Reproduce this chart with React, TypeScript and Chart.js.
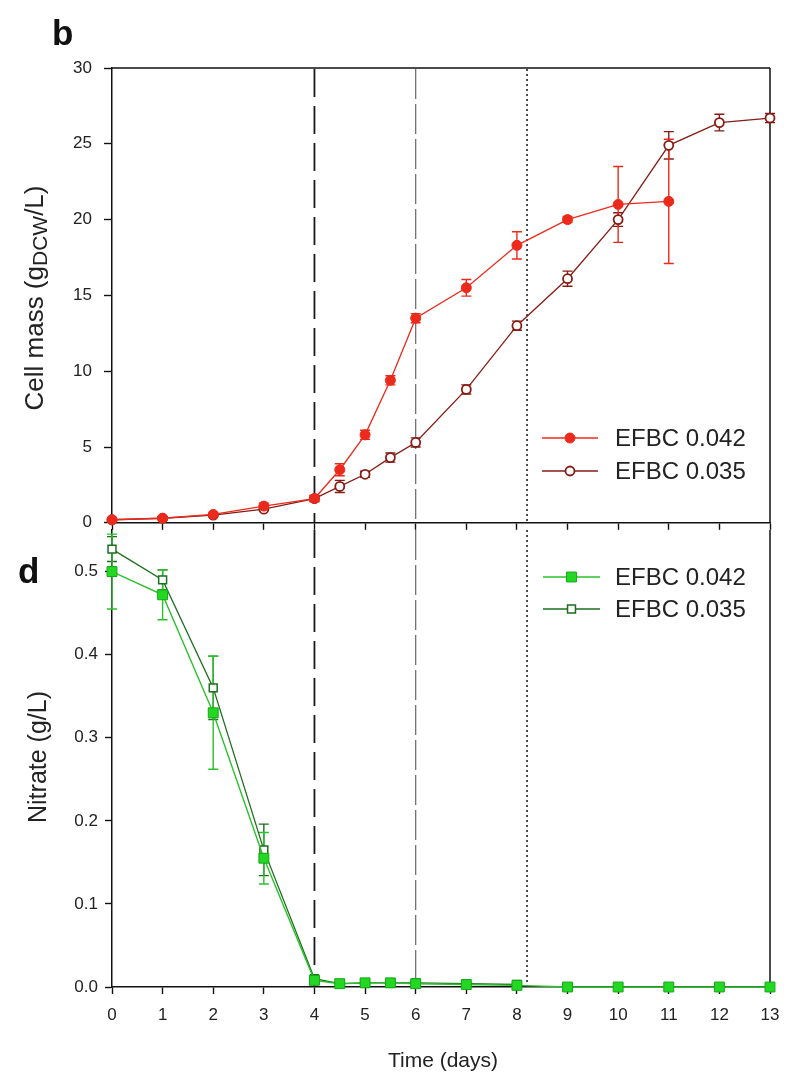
import React, { useEffect, useRef } from 'react';
import { Chart, registerables } from 'chart.js';
Chart.register(...registerables);

// ---------- data ----------
const cellDays042 = [0, 1, 2, 3, 4, 4.5, 5, 5.5, 6, 7, 8, 9, 10, 11];
const cellMass042 = [0.2, 0.3, 0.55, 1.1, 1.6, 3.5, 5.8, 9.4, 13.5, 15.5, 18.3, 20.0, 21.0, 21.2];
const cellErr042 = [0.1, 0.1, 0.1, 0.2, 0.2, 0.4, 0.3, 0.3, 0.3, 0.55, 0.9, 0.2, 2.5, 4.1];

const cellDays035 = [0, 1, 2, 3, 4, 4.5, 5, 5.5, 6, 7, 8, 9, 10, 11, 12, 13];
const cellMass035 = [0.2, 0.3, 0.5, 0.9, 1.6, 2.4, 3.2, 4.3, 5.3, 8.8, 13.0, 16.1, 20.0, 24.9, 26.4, 26.7];
const cellErr035 = [0.1, 0.1, 0.1, 0.1, 0.2, 0.4, 0.2, 0.3, 0.3, 0.3, 0.3, 0.5, 0.45, 0.9, 0.55, 0.3];

const nitDays042 = [0, 1, 2, 3, 4, 4.5, 5, 5.5, 6, 7, 8, 9, 10, 11, 12, 13];
const nitrate042 = [0.5, 0.472, 0.33, 0.155, 0.008, 0.004, 0.005, 0.005, 0.004, 0.003, 0.002, 0, 0, 0, 0, 0];
const nitErr042 = [0.045, 0.03, 0.068, 0.031, 0.003, 0.002, 0.002, 0.002, 0.002, 0.002, 0.002, 0, 0, 0, 0, 0];

const nitDays035 = [0, 1, 2, 3, 4, 4.5, 5, 5.5, 6, 7, 8];
const nitrate035 = [0.527, 0.49, 0.36, 0.165, 0.01, 0.004, 0.005, 0.005, 0.005, 0.004, 0.003];
const nitErr035 = [0.015, 0.012, 0.038, 0.031, 0.003, 0.002, 0.002, 0.002, 0.002, 0.002, 0.002];

const seriesLabels = ['EFBC 0.042', 'EFBC 0.035'];
const phaseLines = [4, 6, 8.2];
const xMin = 0;
const xMax = 13;
const cellMax = 30;
const nitrateMax = 0.55;

// ---------- styles ----------
const FONT = '"Liberation Sans", Arial, sans-serif';
const RED = '#ec2a1c';
const MAROON = '#861c14';
const GREEN = '#22d822';
const GREEN_LINE = '#2bc02b';
const DKGREEN = '#1d6e1d';
const TEXT = '#222';
const lineStyles = [
  { color: '#1a1a1a', width: 1.8, dash: [28, 9] },
  { color: '#666', width: 1.2, dash: [30, 5] },
  { color: '#222', width: 1.6, dash: [2, 3] },
];

const pts = (xs: number[], ys: number[]) => xs.map((x, i) => ({ x, y: ys[i] }));

function drawMarker(ctx: CanvasRenderingContext2D, shape: string, x: number, y: number, r: number, fill: string, stroke: string, lw: number) {
  ctx.save();
  ctx.setLineDash([]);
  ctx.beginPath();
  if (shape === 'circle') ctx.arc(x, y, r, 0, Math.PI * 2);
  else {
    const s = r * Math.SQRT1_2;
    ctx.rect(x - s, y - s, 2 * s, 2 * s);
  }
  ctx.fillStyle = fill;
  ctx.fill();
  ctx.lineWidth = lw;
  ctx.strokeStyle = stroke;
  ctx.stroke();
  ctx.restore();
}

type Seg = { t: string; size: number; dy: number };

function makeDecor(cfg: any) {
  return {
    id: 'decor_' + cfg.name,
    beforeDatasetsDraw(chart: any) {
      const { ctx, chartArea: a, scales } = chart;
      const xs = scales.x;
      const ys = scales.y;
      ctx.save();
      ctx.setLineDash([]);
      ctx.strokeStyle = '#111';
      ctx.lineWidth = 1.5;
      ctx.beginPath();
      if (cfg.topBorder) {
        ctx.moveTo(a.left, a.top);
        ctx.lineTo(a.right, a.top);
      }
      ctx.moveTo(a.right, a.top);
      ctx.lineTo(a.right, a.bottom);
      ctx.stroke();

      phaseLines.forEach((d, i) => {
        const st = lineStyles[i];
        const x = xs.getPixelForValue(d);
        ctx.strokeStyle = st.color;
        ctx.lineWidth = st.width;
        ctx.setLineDash(st.dash);
        ctx.beginPath();
        ctx.moveTo(x, a.top + (cfg.topBorder ? 1 : 0));
        ctx.lineTo(x, a.bottom);
        ctx.stroke();
      });
      ctx.setLineDash([]);

      cfg.errors.forEach((es: any) => {
        const ds = chart.data.datasets[es.ds];
        ctx.strokeStyle = es.color;
        ctx.lineWidth = 1.4;
        ds.data.forEach((p: any, i: number) => {
          const e = es.errs[i];
          if (!e) return;
          const x = xs.getPixelForValue(p.x);
          const yt = ys.getPixelForValue(p.y + e);
          const yb = ys.getPixelForValue(Math.max(p.y - e, 0));
          ctx.beginPath();
          ctx.moveTo(x, yt);
          ctx.lineTo(x, yb);
          ctx.moveTo(x - 5, yt);
          ctx.lineTo(x + 5, yt);
          ctx.moveTo(x - 5, yb);
          ctx.lineTo(x + 5, yb);
          ctx.stroke();
        });
      });
      ctx.restore();
    },
    afterDraw(chart: any) {
      const { ctx } = chart;
      const off = cfg.offY;
      ctx.save();
      // legend
      cfg.legend.items.forEach((it: any, i: number) => {
        const y = cfg.legend.ys[i] - off;
        ctx.strokeStyle = it.line;
        ctx.lineWidth = 1.4;
        ctx.setLineDash([]);
        ctx.beginPath();
        ctx.moveTo(cfg.legend.x0, y);
        ctx.lineTo(cfg.legend.x1, y);
        ctx.stroke();
        drawMarker(ctx, it.shape, (cfg.legend.x0 + cfg.legend.x1) / 2, y, it.r, it.fill, it.stroke, it.lw);
        ctx.fillStyle = TEXT;
        ctx.font = `24px ${FONT}`;
        ctx.textAlign = 'left';
        ctx.textBaseline = 'middle';
        ctx.fillText(it.label, cfg.legend.tx, y + 1);
      });
      // y title (rotated, with optional subscript)
      const segs: Seg[] = cfg.yTitle.segs;
      let total = 0;
      segs.forEach((s) => {
        ctx.font = `${s.size}px ${FONT}`;
        total += ctx.measureText(s.t).width;
      });
      ctx.translate(cfg.yTitle.x, cfg.yTitle.y - off);
      ctx.rotate(-Math.PI / 2);
      ctx.fillStyle = TEXT;
      ctx.textAlign = 'left';
      ctx.textBaseline = 'alphabetic';
      let cx = -total / 2;
      segs.forEach((s) => {
        ctx.font = `${s.size}px ${FONT}`;
        ctx.fillText(s.t, cx, s.dy);
        cx += ctx.measureText(s.t).width;
      });
      ctx.setTransform(1, 0, 0, 1, 0, 0);
      // panel letter
      ctx.fillStyle = '#111';
      ctx.font = `bold 35px ${FONT}`;
      ctx.textAlign = 'left';
      ctx.textBaseline = 'alphabetic';
      ctx.fillText(cfg.panel.t, cfg.panel.x, cfg.panel.y - off);
      // x title
      if (cfg.xTitle) {
        ctx.font = `21px ${FONT}`;
        ctx.textAlign = 'center';
        ctx.fillStyle = TEXT;
        ctx.fillText(cfg.xTitle.t, cfg.xTitle.x, cfg.xTitle.y - off);
      }
      ctx.restore();
    },
  };
}

const axisGrid = (len: number) => ({
  display: true,
  drawOnChartArea: false,
  drawTicks: true,
  tickLength: len,
  tickColor: '#111',
  tickWidth: 1.4,
});
const axisBorder = { display: true, color: '#111', width: 1.5 };

function topConfig(): any {
  return {
    type: 'line',
    data: {
      datasets: [
        {
          label: seriesLabels[0],
          data: pts(cellDays042, cellMass042),
          borderColor: RED,
          backgroundColor: RED,
          borderWidth: 1.3,
          pointStyle: 'circle',
          pointRadius: 5,
          pointBackgroundColor: RED,
          pointBorderColor: RED,
          pointBorderWidth: 1,
          tension: 0,
          clip: false,
        },
        {
          label: seriesLabels[1],
          data: pts(cellDays035, cellMass035),
          borderColor: MAROON,
          backgroundColor: '#fff',
          borderWidth: 1.3,
          pointStyle: 'circle',
          pointRadius: 4.5,
          pointBackgroundColor: '#fff',
          pointBorderColor: MAROON,
          pointBorderWidth: 1.8,
          tension: 0,
          clip: false,
        },
      ],
    },
    options: {
      animation: false,
      responsive: false,
      devicePixelRatio: 1,
      events: [],
      layout: { padding: { top: 68, left: 0, right: 17, bottom: 0 } },
      plugins: { legend: { display: false }, tooltip: { enabled: false } },
      scales: {
        x: {
          type: 'linear',
          min: xMin,
          max: xMax,
          ticks: { stepSize: 1, display: false },
          grid: axisGrid(7),
          border: axisBorder,
          afterFit: (s: any) => { s.height = 15; s.paddingLeft = 0; s.paddingRight = 0; },
        },
        y: {
          min: 0,
          max: cellMax,
          ticks: { stepSize: 5, padding: 12, color: TEXT, font: { family: FONT, size: 17 } },
          grid: axisGrid(8),
          border: axisBorder,
          afterFit: (s: any) => { s.width = 112; },
        },
      },
    },
    plugins: [
      makeDecor({
        name: 'top',
        offY: 0,
        topBorder: true,
        errors: [
          { ds: 1, errs: cellErr035, color: MAROON },
          { ds: 0, errs: cellErr042, color: RED },
        ],
        legend: {
          x0: 542, x1: 598, tx: 615, ys: [438, 471],
          items: [
            { label: seriesLabels[0], line: RED, shape: 'circle', r: 5, fill: RED, stroke: RED, lw: 1 },
            { label: seriesLabels[1], line: MAROON, shape: 'circle', r: 4.5, fill: '#fff', stroke: MAROON, lw: 1.8 },
          ],
        },
        yTitle: {
          x: 43, y: 298,
          segs: [
            { t: 'Cell mass (g', size: 26, dy: 0 },
            { t: 'DCW', size: 21, dy: 4 },
            { t: '/L)', size: 26, dy: 0 },
          ],
        },
        panel: { t: 'b', x: 52, y: 45 },
      }),
    ],
  };
}

function botConfig(): any {
  return {
    type: 'line',
    data: {
      datasets: [
        {
          label: seriesLabels[0],
          data: pts(nitDays042, nitrate042),
          borderColor: GREEN_LINE,
          backgroundColor: GREEN,
          borderWidth: 1.4,
          pointStyle: 'rect',
          pointRadius: 7,
          pointBackgroundColor: GREEN,
          pointBorderColor: '#16a816',
          pointBorderWidth: 1,
          tension: 0,
          clip: false,
        },
        {
          label: seriesLabels[1],
          data: pts(nitDays035, nitrate035),
          borderColor: DKGREEN,
          backgroundColor: '#fff',
          borderWidth: 1.3,
          pointStyle: 'rect',
          pointRadius: 5.6,
          pointBackgroundColor: '#fff',
          pointBorderColor: DKGREEN,
          pointBorderWidth: 1.5,
          tension: 0,
          clip: false,
        },
      ],
    },
    options: {
      animation: false,
      responsive: false,
      devicePixelRatio: 1,
      events: [],
      layout: { padding: { top: 20, left: 0, right: 17, bottom: 0 } },
      plugins: { legend: { display: false }, tooltip: { enabled: false } },
      scales: {
        x: {
          type: 'linear',
          min: xMin,
          max: xMax,
          ticks: { stepSize: 1, padding: 11, color: TEXT, font: { family: FONT, size: 17 } },
          grid: axisGrid(7),
          border: axisBorder,
          afterFit: (s: any) => { s.height = 89; s.paddingLeft = 0; s.paddingRight = 0; },
        },
        y: {
          min: 0,
          max: nitrateMax,
          ticks: {
            stepSize: 0.1,
            includeBounds: false,
            padding: 7,
            color: TEXT,
            font: { family: FONT, size: 17 },
            callback: (v: any) => Number(v).toFixed(1),
          },
          grid: axisGrid(7),
          border: axisBorder,
          afterFit: (s: any) => { s.width = 112; },
        },
      },
    },
    plugins: [
      makeDecor({
        name: 'bot',
        offY: 510,
        topBorder: false,
        errors: [
          { ds: 1, errs: nitErr035, color: DKGREEN },
          { ds: 0, errs: nitErr042, color: GREEN_LINE },
        ],
        legend: {
          x0: 543, x1: 600, tx: 615, ys: [577, 609],
          items: [
            { label: seriesLabels[0], line: GREEN_LINE, shape: 'rect', r: 7, fill: GREEN, stroke: '#16a816', lw: 1 },
            { label: seriesLabels[1], line: DKGREEN, shape: 'rect', r: 5.6, fill: '#fff', stroke: DKGREEN, lw: 1.5 },
          ],
        },
        yTitle: { x: 46, y: 757, segs: [{ t: 'Nitrate (g/L)', size: 25, dy: 0 }] },
        panel: { t: 'd', x: 18, y: 583 },
        xTitle: { t: 'Time (days)', x: 443, y: 1067 },
      }),
    ],
  };
}

export default function App() {
  const topRef = useRef<HTMLCanvasElement>(null);
  const botRef = useRef<HTMLCanvasElement>(null);
  useEffect(() => {
    document.body.style.margin = '0';
    const c1 = new Chart(topRef.current as HTMLCanvasElement, topConfig());
    const c2 = new Chart(botRef.current as HTMLCanvasElement, botConfig());
    return () => {
      c1.destroy();
      c2.destroy();
    };
  }, []);
  return (
    <div style={{ position: 'relative', width: 787, height: 1076, overflow: 'hidden', background: '#fff' }}>
      <canvas ref={topRef} width={787} height={545} style={{ position: 'absolute', left: 0, top: 0 }} />
      <canvas ref={botRef} width={787} height={566} style={{ position: 'absolute', left: 0, top: 510 }} />
    </div>
  );
}
